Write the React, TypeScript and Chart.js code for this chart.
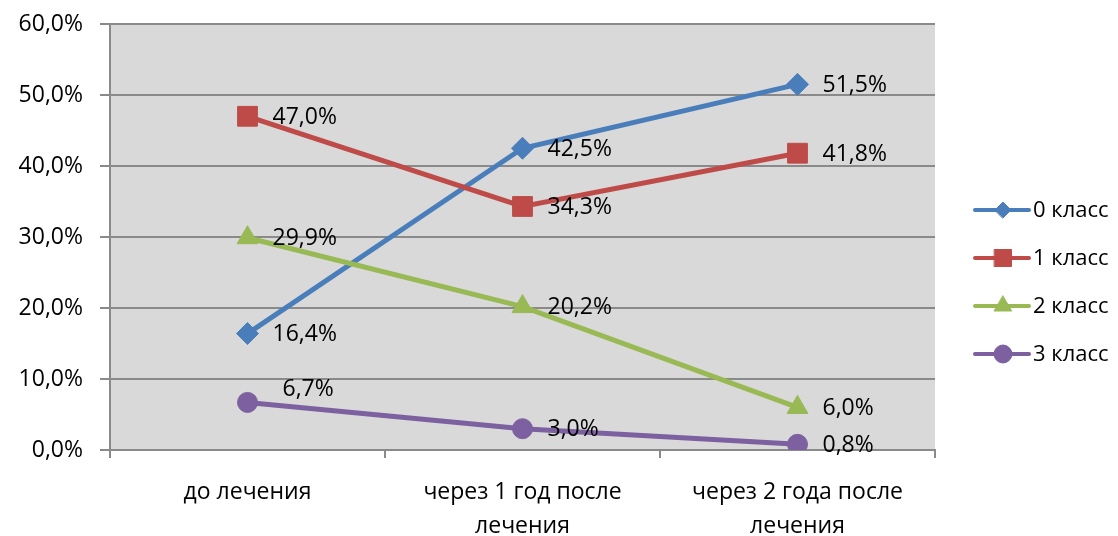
import React, { useEffect, useRef } from 'react';
import { Chart, registerables } from 'chart.js';
import { drawPoint } from 'chart.js/helpers';

Chart.register(...registerables);

// ---- data ----
const categories: (string | string[])[] = [
  'до лечения',
  ['через 1 год после', 'лечения'],
  ['через 2 года после', 'лечения'],
];
const seriesNames = ['0 класс', '1 класс', '2 класс', '3 класс'];
const class0 = [16.4, 42.5, 51.5];
const class1 = [47.0, 34.3, 41.8];
const class2 = [29.9, 20.2, 6.0];
const class3 = [6.7, 3.0, 0.8];
const yMin = 0;
const yMax = 60;
const yStep = 10;

// ---- styles ----
const FONT = '"Open Sans", "Noto Sans", sans-serif';
const FONT_SIZE = 23;
const LEGEND_FONT_SIZE = 22;
const colors = ['#4A7EBB', '#BE4B48', '#98B954', '#7D60A0'];
const pointStyles = ['rectRot', 'rect', 'triangle', 'circle'];
const pointRadii = [11, 14, 12, 10];
const legendRadii = [8, 12, 10, 9];
const gridColor = '#8A8A8A';
const plotBg = '#D9D9D9';
// manual nudges for individual data labels: key "dataset-index"
const labelNudges: Record<string, [number, number]> = { '3-0': [10, -14] };

const fmt = (v: number) => v.toFixed(1).replace('.', ',') + '%';

const plotBgPlugin = {
  id: 'plotBg',
  beforeDraw(chart: any) {
    const { ctx, chartArea } = chart;
    ctx.save();
    ctx.fillStyle = plotBg;
    ctx.fillRect(chartArea.left, chartArea.top, chartArea.right - chartArea.left, chartArea.bottom - chartArea.top);
    ctx.restore();
  },
};

const dataLabelPlugin = {
  id: 'dataLabels',
  afterDatasetsDraw(chart: any) {
    const ctx = chart.ctx;
    ctx.save();
    ctx.font = `${FONT_SIZE}px ${FONT}`;
    ctx.fillStyle = '#000';
    ctx.textAlign = 'left';
    ctx.textBaseline = 'middle';
    chart.data.datasets.forEach((ds: any, i: number) => {
      const meta = chart.getDatasetMeta(i);
      meta.data.forEach((pt: any, j: number) => {
        const n = labelNudges[`${i}-${j}`] || [0, 0];
        ctx.fillText(fmt(ds.data[j]), pt.x + 25 + n[0], pt.y + 1 + n[1]);
      });
    });
    ctx.restore();
  },
};

const legendPlugin = {
  id: 'customLegend',
  afterDraw(chart: any) {
    const { ctx, chartArea } = chart;
    ctx.save();
    const x0 = chartArea.right + 40;
    chart.data.datasets.forEach((ds: any, i: number) => {
      const y = chartArea.top + 186 + i * 48;
      ctx.strokeStyle = colors[i];
      ctx.lineWidth = 4;
      ctx.lineCap = 'round';
      ctx.beginPath();
      ctx.moveTo(x0, y);
      ctx.lineTo(x0 + 54, y);
      ctx.stroke();
      ctx.fillStyle = colors[i];
      ctx.strokeStyle = colors[i];
      ctx.lineWidth = 1;
      drawPoint(ctx, { pointStyle: pointStyles[i], radius: legendRadii[i], borderWidth: 1, rotation: 0 } as any, x0 + 28, y);
      ctx.fillStyle = '#000';
      ctx.font = `${LEGEND_FONT_SIZE}px ${FONT}`;
      ctx.textAlign = 'left';
      ctx.textBaseline = 'middle';
      ctx.fillText(ds.label, x0 + 58, y + 1);
    });
    ctx.restore();
  },
};

export default function App() {
  const ref = useRef<HTMLCanvasElement>(null);
  useEffect(() => {
    if (!ref.current) return;
    const series = [class0, class1, class2, class3];
    const chart = new Chart(ref.current, {
      type: 'line',
      data: {
        labels: categories as any,
        datasets: series.map((d, i) => ({
          label: seriesNames[i],
          data: d,
          borderColor: colors[i],
          backgroundColor: colors[i],
          borderWidth: 5,
          pointStyle: pointStyles[i] as any,
          pointRadius: pointRadii[i],
          pointHoverRadius: pointRadii[i],
          pointBorderWidth: 1,
          pointBorderColor: colors[i],
          pointBackgroundColor: colors[i],
          tension: 0,
          fill: false,
          order: 3 - i,
        })),
      },
      options: {
        animation: false,
        responsive: false,
        events: [],
        layout: { padding: { left: 0, right: 183, top: 24, bottom: 0 } },
        plugins: { legend: { display: false }, tooltip: { enabled: false } },
        scales: {
          x: {
            offset: true,
            grid: {
              display: true,
              drawOnChartArea: false,
              drawTicks: true,
              tickLength: 8,
              offset: true,
              color: gridColor,
              lineWidth: 2,
            },
            border: { display: true, color: gridColor, width: 2 },
            ticks: {
              font: { family: FONT, size: FONT_SIZE, lineHeight: 1.5 },
              color: '#000',
              padding: 17,
              maxRotation: 0,
              autoSkip: false,
            },
            afterFit: (s: any) => {
              s.height = 86;
            },
          },
          y: {
            min: yMin,
            max: yMax,
            ticks: {
              stepSize: yStep,
              callback: (v: any) => fmt(Number(v)),
              font: { family: FONT, size: FONT_SIZE },
              color: '#000',
              padding: 17,
            },
            grid: { color: gridColor, lineWidth: 2, tickLength: 10 },
            border: { display: true, color: gridColor, width: 2 },
            afterFit: (s: any) => {
              s.width = 110;
              s.paddingTop = 0;
              s.paddingBottom = 0;
            },
          },
        },
      },
      plugins: [plotBgPlugin, dataLabelPlugin, legendPlugin],
    });
    return () => chart.destroy();
  }, []);
  return (
    <div style={{ position: 'fixed', left: 0, top: 0, width: 1118, height: 536, background: '#fff' }}>
      <canvas ref={ref} width={1118} height={536} style={{ display: 'block' }} />
    </div>
  );
}
